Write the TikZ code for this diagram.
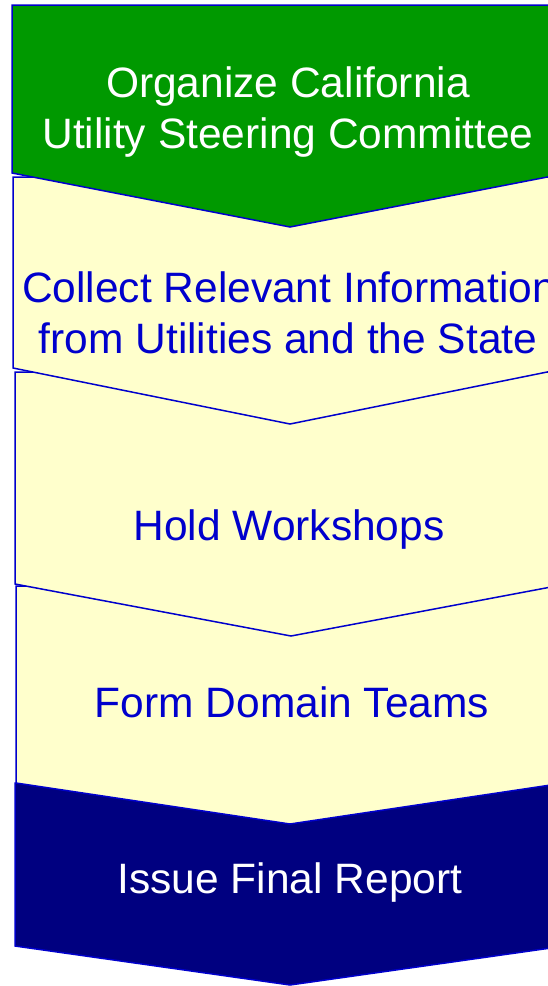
\documentclass[tikz,border=0pt]{standalone}
\usepackage{fontspec}
\setmainfont{Liberation Sans}
\definecolor{stepgreen}{RGB}{0,153,0}
\definecolor{stepyellow}{RGB}{255,255,204}
\definecolor{stepnavy}{RGB}{0,0,128}
\definecolor{stepblue}{RGB}{0,0,204}
\tikzset{
  chev/.style={draw=stepblue, line width=1.5pt, line join=miter},
  lbl/.style={anchor=base, inner sep=0pt, font=\fontsize{42.5}{51}\selectfont},
}
\begin{document}
\begin{tikzpicture}[x=1pt,y=-1pt]
\useasboundingbox (0,0) rectangle (548,986);
\clip (0,0) rectangle (548,986);
\fill[white] (0,0) rectangle (548,986);
% shape 5 (navy)
\draw[chev, fill=stepnavy] (15,783) -- (565,783) -- (565,946) -- (290,985) -- (15,946) -- cycle;
% shape 4
\draw[chev, fill=stepyellow] (16,586) -- (564,586) -- (564,783) -- (290,824) -- (16,783) -- cycle;
% shape 3
\draw[chev, fill=stepyellow] (15,372) -- (567,372) -- (567,584) -- (291,636) -- (15,584) -- cycle;
% shape 2
\draw[chev, fill=stepyellow] (13,177) -- (567,177) -- (567,368) -- (290,424) -- (13,368) -- cycle;
% shape 1 (green)
\draw[chev, fill=stepgreen] (12,5) -- (568,5) -- (568,173) -- (290,227) -- (12,173) -- cycle;

\node[lbl, text=white] (t1a) at (288,97) {Organize California};
\node[lbl, text=white] (t1b) at (288,148) {Utility Steering Committee};
\node[lbl, text=stepblue] (t2a) at (289,302) {Collect Relevant Information};
\node[lbl, text=stepblue] (t2b) at (288,353) {from Utilities and the State};
\node[lbl, text=stepblue] (t3) at (289,540) {Hold Workshops};
\node[lbl, text=stepblue] (t4) at (292,717) {Form Domain Teams};
\node[lbl, text=white] (t5) at (290,893) {Issue Final Report};
\end{tikzpicture}
\end{document}
